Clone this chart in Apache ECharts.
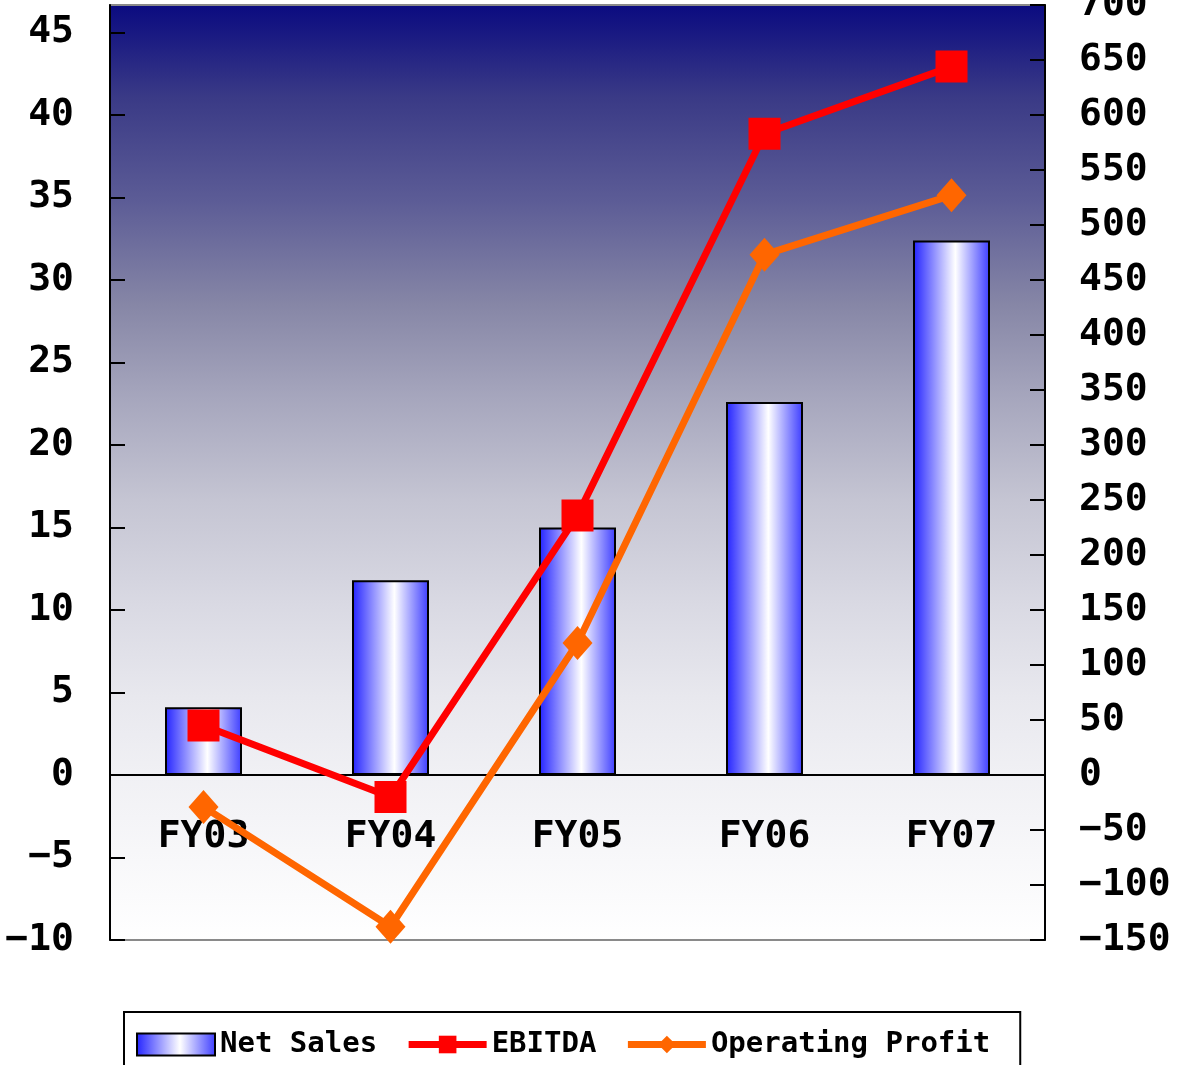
<!DOCTYPE html>
<html>
<head>
<meta charset="utf-8">
<style>
  html, body { margin: 0; padding: 0; background: #fff; }
  #chart { width: 1177px; height: 1065px; }
</style>
<script src="https://cdn.jsdelivr.net/npm/echarts@6/dist/echarts.min.js"></script>
</head>
<body>
<div id="chart"></div>
<script>
(function () {
    // data
    var years = ['FY03', 'FY04', 'FY05', 'FY06', 'FY07'];
    var netSales = [4.1, 11.8, 15.0, 22.6, 32.4];
    var ebitda = [45, -20, 236, 583, 644];
    var opProfit = [-29, -138, 120, 473, 527];

    var fontFam = '"DejaVu Sans Mono", "Liberation Mono", monospace';
    var minusFmt = function (v) { return String(v).replace('-', '\u2212'); };

    let myChart = echarts.init(document.getElementById('chart'));

    var barFill = new echarts.graphic.LinearGradient(0, 0, 1, 0, [
        { offset: 0, color: '#2222ff' },
        { offset: 0.55, color: '#ffffff' },
        { offset: 1, color: '#3c3cff' }
    ]);
    var bgFill = new echarts.graphic.LinearGradient(0, 0, 0, 1, [
        { offset: 0, color: '#0a0a80' },
        { offset: 0.1, color: '#3a3a86' },
        { offset: 0.21, color: '#5c5c96' },
        { offset: 0.32, color: '#8686a6' },
        { offset: 0.42, color: '#a6a6bd' },
        { offset: 0.53, color: '#c5c5d3' },
        { offset: 0.64, color: '#d9d9e3' },
        { offset: 0.74, color: '#e8e8ee' },
        { offset: 0.82, color: '#f0f0f4' },
        { offset: 1, color: '#ffffff' }
    ]);

    let option = {
        animation: false,
        textStyle: { fontFamily: fontFam },
        grid: {
            left: 110, right: 132, top: 5, bottom: 125,
            outerBoundsMode: 'none',
            containLabel: false,
            show: true,
            backgroundColor: bgFill,
            borderColor: '#8a8a8a',
            borderWidth: 2
        },
        legend: {
            top: 1012,
            left: 124,
            padding: [18, 30, 40, 12],
            borderColor: '#000',
            borderWidth: 2,
            itemGap: 28,
            itemWidth: 78,
            itemHeight: 22,
            textStyle: { fontSize: 29, fontWeight: 'bold', color: '#000', fontFamily: fontFam },
            data: [
                { name: 'Net Sales', icon: 'rect', itemStyle: { color: barFill, borderColor: '#000', borderWidth: 2 } },
                { name: 'EBITDA', lineStyle: { color: '#ff0000', width: 7 } },
                { name: 'Operating Profit', lineStyle: { color: '#ff6600', width: 7 } }
            ]
        },
        xAxis: {
            type: 'category',
            data: years,
            position: 'bottom',
            // 0 on the left axis sits 165px above the grid bottom
            offset: -165,
            axisLine: { onZero: false, lineStyle: { color: '#000', width: 2 } },
            axisTick: { inside: true, length: 9, lineStyle: { color: '#000', width: 2 } },
            axisLabel: { margin: 43, fontSize: 38, fontWeight: 'bold', color: '#000' },
            splitLine: { show: false }
        },
        yAxis: [
            {
                type: 'value',
                min: -10,
                max: 700 / 15,
                interval: 5,
                axisLine: { show: true, lineStyle: { color: '#000', width: 2 } },
                axisTick: { show: true, inside: true, length: 15, lineStyle: { color: '#000', width: 2 } },
                axisLabel: { margin: 36, fontSize: 38, fontWeight: 'bold', color: '#000', showMaxLabel: false, formatter: minusFmt },
                splitLine: { show: false }
            },
            {
                type: 'value',
                min: -150,
                max: 700,
                interval: 50,
                axisLine: { show: true, lineStyle: { color: '#000', width: 2 } },
                axisTick: { show: true, inside: true, length: 15, lineStyle: { color: '#000', width: 2 } },
                axisLabel: { margin: 34, fontSize: 38, fontWeight: 'bold', color: '#000', formatter: minusFmt },
                splitLine: { show: false }
            }
        ],
        series: [
            {
                name: 'Net Sales',
                type: 'bar',
                yAxisIndex: 0,
                barWidth: 77,
                itemStyle: { color: barFill, borderColor: '#000', borderWidth: 2 },
                data: netSales
            },
            {
                name: 'EBITDA',
                type: 'line',
                yAxisIndex: 1,
                symbol: 'rect',
                symbolSize: 32,
                lineStyle: { color: '#ff0000', width: 7 },
                itemStyle: { color: '#ff0000' },
                data: ebitda
            },
            {
                name: 'Operating Profit',
                type: 'line',
                yAxisIndex: 1,
                symbol: 'diamond',
                symbolSize: [30, 34],
                lineStyle: { color: '#ff6600', width: 7 },
                itemStyle: { color: '#ff6600' },
                data: opProfit
            }
        ]
    };

    myChart.setOption(option);
    window.addEventListener('resize', function () {
        myChart.resize();
    });
})();
</script>
</body>
</html>
